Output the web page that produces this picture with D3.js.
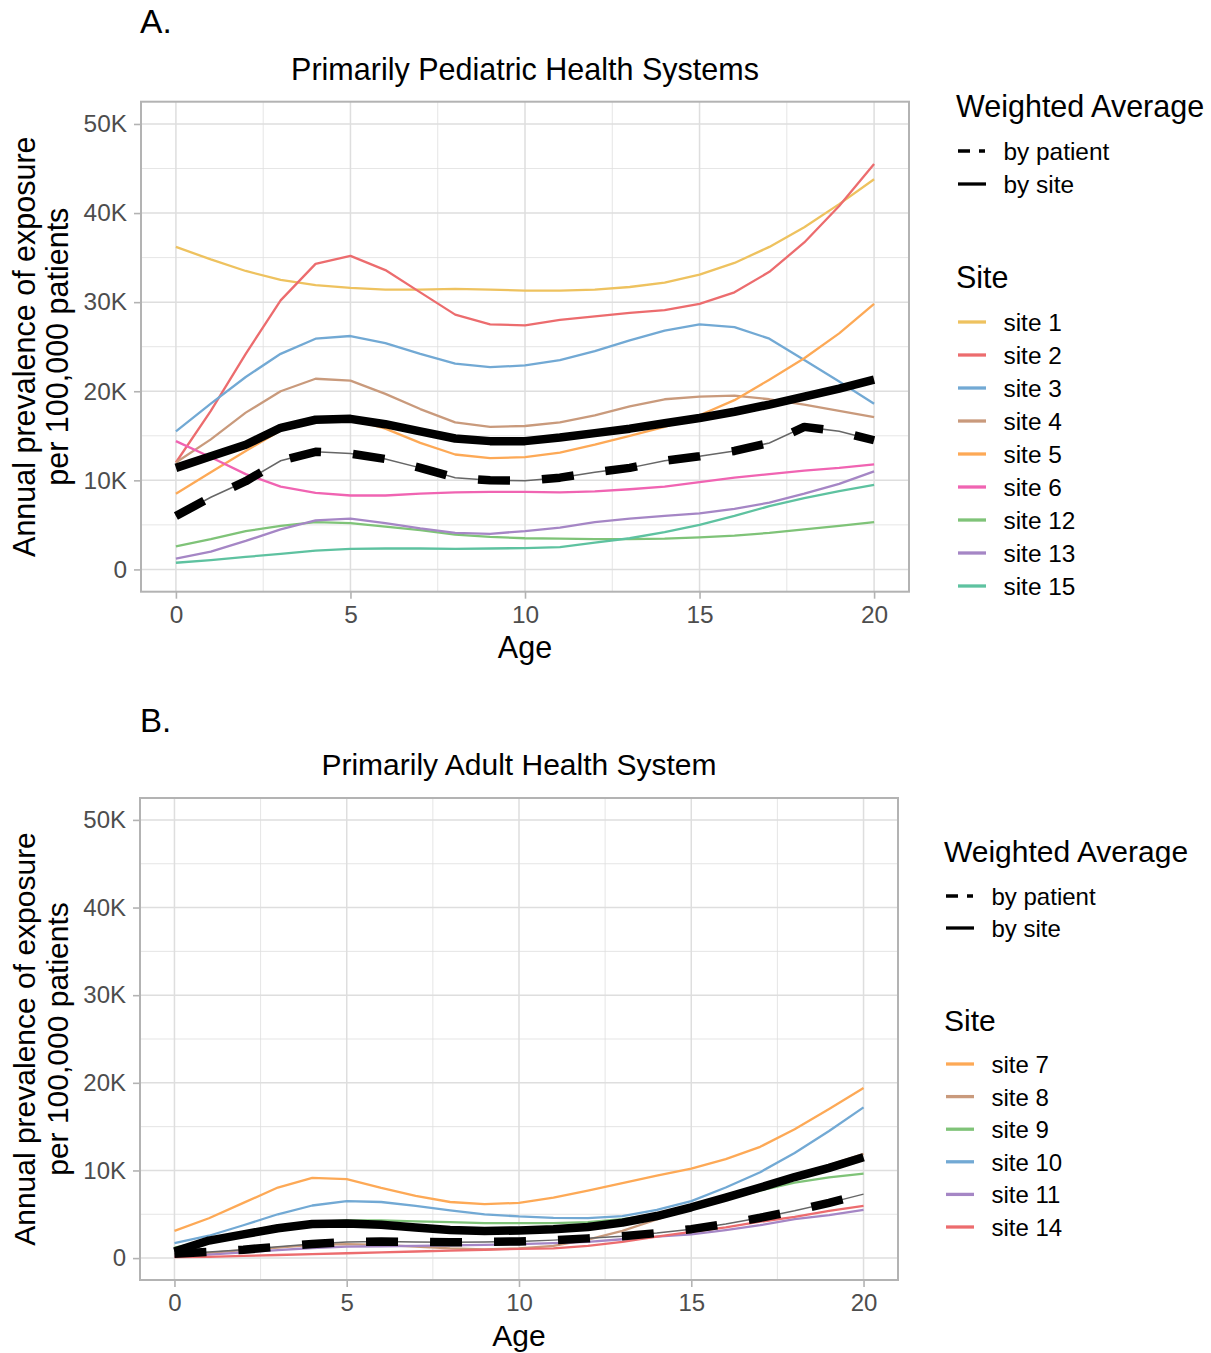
<!DOCTYPE html>
<html>
<head>
<meta charset="utf-8">
<script src="https://cdnjs.cloudflare.com/ajax/libs/d3/7.8.5/d3.min.js"></script>
<style>
  body { margin: 0; background: #fff; }
  svg { font-family: "Liberation Sans", Arial, sans-serif; }
</style>
</head>
<body>
<script>

// ages on the x axis
var ages = [0, 1, 2, 3, 4, 5, 6, 7, 8, 9, 10, 11, 12, 13, 14, 15, 16, 17, 18, 19, 20];
var xTicks = [0, 5, 10, 15, 20];
var xMinor = [2.5, 7.5, 12.5, 17.5];
var yTicks = [0, 10, 20, 30, 40, 50];      // thousands
var yMinor = [5, 15, 25, 35, 45];
var yTickLabels = ["0", "10K", "20K", "30K", "40K", "50K"];

// A. pediatric systems, prevalence in thousands per 100,000
var site1  = [36.2, 34.8, 33.5, 32.5, 31.9, 31.6, 31.4, 31.4, 31.5, 31.4, 31.3, 31.3, 31.4, 31.7, 32.2, 33.1, 34.4, 36.2, 38.4, 41.0, 43.8];
var site2  = [12.0, 17.8, 24.2, 30.2, 34.3, 35.2, 33.6, 31.1, 28.6, 27.5, 27.4, 28.0, 28.4, 28.8, 29.1, 29.8, 31.1, 33.4, 36.7, 40.8, 45.5];
var site3  = [15.5, 18.6, 21.6, 24.2, 25.9, 26.2, 25.4, 24.2, 23.1, 22.7, 22.9, 23.5, 24.5, 25.7, 26.8, 27.5, 27.2, 25.9, 23.5, 21.1, 18.6];
var site4  = [12.0, 14.6, 17.6, 20.0, 21.4, 21.2, 19.7, 18.0, 16.5, 16.0, 16.1, 16.5, 17.3, 18.3, 19.1, 19.4, 19.5, 19.1, 18.5, 17.8, 17.1];
var site5  = [8.5, 10.9, 13.3, 15.6, 16.8, 16.9, 15.8, 14.2, 12.9, 12.5, 12.6, 13.1, 14.0, 15.0, 16.0, 17.3, 19.0, 21.3, 23.7, 26.5, 29.8];
var site6  = [14.4, 12.6, 10.7, 9.3, 8.6, 8.3, 8.3, 8.5, 8.65, 8.7, 8.7, 8.65, 8.75, 9.0, 9.3, 9.8, 10.3, 10.7, 11.1, 11.4, 11.8];
var site12 = [2.6, 3.4, 4.3, 4.9, 5.3, 5.2, 4.8, 4.4, 3.9, 3.65, 3.5, 3.45, 3.4, 3.4, 3.45, 3.6, 3.8, 4.1, 4.5, 4.9, 5.3];
var site13 = [1.2, 2.0, 3.2, 4.5, 5.5, 5.7, 5.2, 4.6, 4.1, 4.0, 4.3, 4.7, 5.3, 5.7, 6.0, 6.3, 6.8, 7.5, 8.5, 9.6, 11.0];
var site15 = [0.75, 1.05, 1.4, 1.75, 2.1, 2.3, 2.35, 2.35, 2.3, 2.35, 2.4, 2.5, 3.0, 3.5, 4.2, 5.0, 6.0, 7.1, 8.0, 8.8, 9.5];
var bySiteA    = [11.4, 12.7, 14.0, 15.9, 16.8, 16.9, 16.3, 15.5, 14.7, 14.4, 14.4, 14.8, 15.3, 15.8, 16.4, 17.0, 17.7, 18.5, 19.4, 20.3, 21.3];
var byPatientA = [6.0, 8.1, 9.9, 12.2, 13.2, 13.0, 12.4, 11.4, 10.3, 10.0, 9.95, 10.3, 10.9, 11.4, 12.2, 12.7, 13.3, 14.2, 16.0, 15.5, 14.5];

// B. adult system
var site7  = [3.1, 4.55, 6.3, 8.05, 9.15, 9.0, 8.0, 7.1, 6.4, 6.15, 6.3, 6.9, 7.7, 8.55, 9.4, 10.2, 11.3, 12.7, 14.7, 17.0, 19.4];
var site8  = [0.3, 0.6, 0.9, 1.2, 1.5, 1.6, 1.5, 1.3, 1.1, 1.0, 1.1, 1.4, 2.1, 3.1, 4.4, 5.7, 6.9, 8.1, 9.3, 10.6, 11.9];
var site9  = [1.2, 2.0, 2.8, 3.5, 4.1, 4.3, 4.3, 4.2, 4.1, 4.0, 4.0, 4.0, 4.1, 4.45, 5.0, 5.8, 6.7, 7.7, 8.6, 9.2, 9.65];
var site10 = [1.7, 2.55, 3.75, 5.0, 6.0, 6.5, 6.4, 5.95, 5.45, 5.0, 4.75, 4.6, 4.55, 4.8, 5.5, 6.5, 8.05, 9.8, 12.0, 14.5, 17.2];
var site11 = [0.2, 0.4, 0.65, 0.9, 1.15, 1.3, 1.35, 1.4, 1.45, 1.5, 1.6, 1.7, 1.85, 2.15, 2.45, 2.7, 3.2, 3.75, 4.45, 4.9, 5.5];
var site14 = [0.1, 0.15, 0.25, 0.35, 0.45, 0.55, 0.65, 0.75, 0.85, 0.95, 1.05, 1.1, 1.4, 1.85, 2.45, 3.0, 3.5, 4.15, 4.7, 5.4, 5.95];
var bySiteB    = [0.75, 2.0, 2.7, 3.4, 3.9, 3.95, 3.8, 3.5, 3.2, 3.1, 3.15, 3.3, 3.55, 4.05, 4.8, 5.8, 6.9, 8.05, 9.25, 10.3, 11.5];
var byPatientB = [0.5, 0.7, 0.95, 1.3, 1.6, 1.85, 1.9, 1.85, 1.8, 1.85, 1.9, 2.05, 2.25, 2.5, 2.85, 3.3, 3.9, 4.6, 5.4, 6.3, 7.3];

var yellow = "#EEC25F", red = "#EC6C6E", blue = "#72A9D4", brown = "#C99A7C",
    orange = "#FDA956", pink = "#F064B2", green = "#7FC378", purple = "#A586C5", teal = "#5EC2A0";

var panels = [
  {
    tag: "A.", title: "Primarily Pediatric Health Systems", fs: 1.017,
    left: 141, right: 909, top: 101.7, bottom: 591.7, tagY: 33.3, titleY: 80,
    legendX: 956, legendY: 116.5, keyDy: [34.5, 67.5], siteTitleDy: 171, siteDy: 205.5, siteStep: 33,
    sites: [
      { name: "site 1", values: site1, color: yellow },
      { name: "site 2", values: site2, color: red },
      { name: "site 3", values: site3, color: blue },
      { name: "site 4", values: site4, color: brown },
      { name: "site 5", values: site5, color: orange },
      { name: "site 6", values: site6, color: pink },
      { name: "site 12", values: site12, color: green },
      { name: "site 13", values: site13, color: purple },
      { name: "site 15", values: site15, color: teal }
    ],
    bySite: bySiteA, byPatient: byPatientA
  },
  {
    tag: "B.", title: "Primarily Adult Health System", fs: 1.0,
    left: 140, right: 898, top: 798, bottom: 1280, tagY: 731.7, titleY: 775,
    legendX: 944, legendY: 861.5, keyDy: [34.5, 66.5], siteTitleDy: 169, siteDy: 202.5, siteStep: 32.6,
    sites: [
      { name: "site 7", values: site7, color: orange },
      { name: "site 8", values: site8, color: brown },
      { name: "site 9", values: site9, color: green },
      { name: "site 10", values: site10, color: blue },
      { name: "site 11", values: site11, color: purple },
      { name: "site 14", values: site14, color: red }
    ],
    bySite: bySiteB, byPatient: byPatientB
  }
];

var svg = d3.select("body").append("svg")
    .attr("width", 1211)
    .attr("height", 1353);

panels.forEach(function(p) {

  var x = d3.scaleLinear().domain([-1, 21]).range([p.left, p.right]);
  var y = d3.scaleLinear().domain([-2.5, 52.5]).range([p.bottom, p.top]);
  var big = (30 * p.fs) + "px", small = (24 * p.fs) + "px";

  var g = svg.append("g");

  g.append("text")
      .attr("x", 140).attr("y", p.tagY)
      .style("font-size", (33 * p.fs) + "px")
      .text(p.tag);

  g.append("text")
      .attr("x", (p.left + p.right) / 2).attr("y", p.titleY)
      .attr("text-anchor", "middle")
      .style("font-size", big)
      .text(p.title);

  // grid
  g.selectAll(".xminor").data(xMinor).enter().append("line")
      .attr("x1", function(d) { return x(d); }).attr("x2", function(d) { return x(d); })
      .attr("y1", p.top).attr("y2", p.bottom)
      .style("stroke", "#DEDEDE").style("stroke-width", 0.8);
  g.selectAll(".yminor").data(yMinor).enter().append("line")
      .attr("y1", function(d) { return y(d); }).attr("y2", function(d) { return y(d); })
      .attr("x1", p.left).attr("x2", p.right)
      .style("stroke", "#DEDEDE").style("stroke-width", 0.8);
  g.selectAll(".xmajor").data(xTicks).enter().append("line")
      .attr("x1", function(d) { return x(d); }).attr("x2", function(d) { return x(d); })
      .attr("y1", p.top).attr("y2", p.bottom)
      .style("stroke", "#DEDEDE").style("stroke-width", 1.5);
  g.selectAll(".ymajor").data(yTicks).enter().append("line")
      .attr("y1", function(d) { return y(d); }).attr("y2", function(d) { return y(d); })
      .attr("x1", p.left).attr("x2", p.right)
      .style("stroke", "#DEDEDE").style("stroke-width", 1.5);

  var line = d3.line()
      .x(function(d, i) { return x(ages[i]); })
      .y(function(d) { return y(d); });

  g.selectAll(".site").data(p.sites).enter().append("path")
      .attr("d", function(d) { return line(d.values); })
      .style("fill", "none")
      .style("stroke", function(d) { return d.color; })
      .style("stroke-width", 2.3)
      .style("stroke-linejoin", "round");

  g.append("path")
      .attr("d", line(p.bySite))
      .style("fill", "none").style("stroke", "#000")
      .style("stroke-width", 8.5).style("stroke-linejoin", "round");

  g.append("path")
      .attr("d", line(p.byPatient))
      .style("fill", "none").style("stroke", "#666")
      .style("stroke-width", 1.5);

  g.append("path")
      .attr("d", line(p.byPatient))
      .style("fill", "none").style("stroke", "#000")
      .style("stroke-width", 8.5).style("stroke-linejoin", "round")
      .style("stroke-dasharray", "32,32");

  // axes
  var xAxis = g.append("g")
      .attr("transform", "translate(0," + p.bottom + ")")
      .call(d3.axisBottom(x).tickValues(xTicks).tickSize(7).tickPadding(7));
  var yAxis = g.append("g")
      .attr("transform", "translate(" + p.left + ",0)")
      .call(d3.axisLeft(y).tickValues(yTicks).tickSize(7).tickPadding(7)
        .tickFormat(function(d, i) { return yTickLabels[i]; }));

  [xAxis, yAxis].forEach(function(a) {
    a.select(".domain").remove();
    a.selectAll("line").style("stroke", "#B3B3B3").style("stroke-width", 1.6);
    a.selectAll("text").style("font-size", small).style("fill", "#4D4D4D")
        .style("font-family", "'Liberation Sans', Arial, sans-serif");
  });

  g.append("rect")
      .attr("x", p.left).attr("y", p.top)
      .attr("width", p.right - p.left).attr("height", p.bottom - p.top)
      .style("fill", "none").style("stroke", "#B3B3B3").style("stroke-width", 2);

  g.append("text")
      .attr("x", (p.left + p.right) / 2).attr("y", p.bottom + 66.3)
      .attr("text-anchor", "middle")
      .style("font-size", big)
      .text("Age");

  var cy = (p.top + p.bottom) / 2;
  [["Annual prevalence of exposure", 35], ["per 100,000 patients", 68.3]].forEach(function(t) {
    g.append("text")
        .attr("transform", "translate(" + t[1] + "," + cy + ") rotate(-90)")
        .attr("text-anchor", "middle")
        .style("font-size", big)
        .text(t[0]);
  });

  // legend
  var lx = p.legendX, ly = p.legendY;
  var lg = g.append("g");
  lg.append("text").attr("x", lx).attr("y", ly).style("font-size", big).text("Weighted Average");

  var avgKeys = [
    { name: "by patient", dash: "12,9,6,20" },
    { name: "by site", dash: null }
  ];
  avgKeys.forEach(function(k, i) {
    var ky = ly + p.keyDy[i];
    lg.append("line")
        .attr("x1", lx + 2).attr("x2", lx + 30)
        .attr("y1", ky).attr("y2", ky)
        .style("stroke", "#000").style("stroke-width", 3.3)
        .style("stroke-dasharray", k.dash);
    lg.append("text").attr("x", lx + 47.5).attr("y", ky + 9)
        .style("font-size", small).text(k.name);
  });

  lg.append("text").attr("x", lx).attr("y", ly + p.siteTitleDy).style("font-size", big).text("Site");

  var items = lg.selectAll(".item").data(p.sites).enter().append("g")
      .attr("transform", function(d, i) { return "translate(0," + (ly + p.siteDy + i * p.siteStep) + ")"; });
  items.append("line")
      .attr("x1", lx + 2).attr("x2", lx + 30)
      .style("stroke", function(d) { return d.color; })
      .style("stroke-width", 3.3);
  items.append("text")
      .attr("x", lx + 47.5).attr("y", 9)
      .style("font-size", small)
      .text(function(d) { return d.name; });
});

</script>
</body>
</html>
